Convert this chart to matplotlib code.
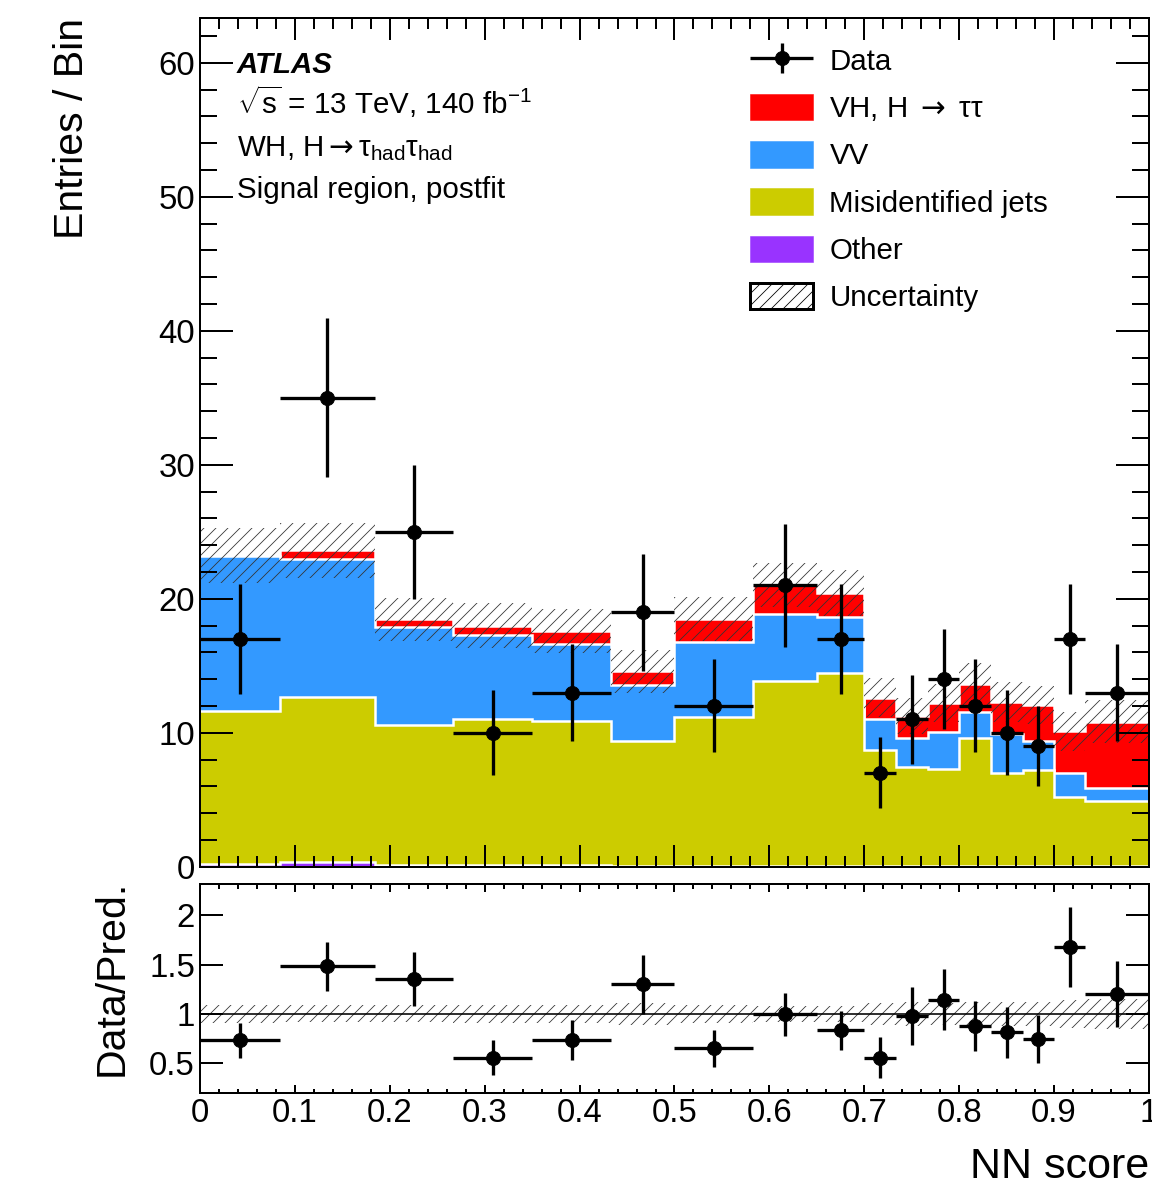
import numpy as np
import matplotlib
matplotlib.use("Agg")
import matplotlib.pyplot as plt
from matplotlib.patches import Patch
from matplotlib.ticker import MultipleLocator, NullLocator
from matplotlib.container import ErrorbarContainer
from matplotlib.legend_handler import HandlerErrorbar

plt.rcParams["font.family"] = ["Liberation Sans", "DejaVu Sans"]
plt.rcParams["mathtext.fontset"] = "custom"
plt.rcParams["mathtext.rm"] = "Liberation Sans"
plt.rcParams["mathtext.it"] = "Liberation Sans:italic"
plt.rcParams["mathtext.bf"] = "Liberation Sans:bold"
plt.rcParams["mathtext.sf"] = "DejaVu Sans"
plt.rcParams["hatch.linewidth"] = 0.8

# NN score binning (variable width)
bin_edges = [0.0, 0.084, 0.184, 0.267, 0.35, 0.433, 0.5, 0.583, 0.65, 0.70,
             0.733, 0.767, 0.80, 0.833, 0.867, 0.90, 0.933, 1.0]

data_counts = [17, 35, 25, 10, 13, 19, 12, 21, 17, 7, 11, 14, 12, 10, 9, 17, 13]

# postfit yields per process
other = [0.2, 0.35, 0.15, 0.15, 0.15, 0.03, 0.03, 0.03, 0.02, 0.02,
         0.02, 0.02, 0.02, 0.02, 0.02, 0.02, 0.02]
misid_jets = [11.4, 12.35, 10.4, 10.9, 10.75, 9.35, 11.15, 13.85, 14.4, 8.7,
              7.45, 7.25, 9.6, 6.95, 7.2, 5.2, 4.9]
vv = [11.6, 10.3, 7.35, 6.25, 5.7, 4.2, 5.6, 4.95, 4.2, 2.3,
      2.15, 2.8, 1.9, 2.9, 2.15, 1.75, 0.95]
vh_tautau = [0.0, 0.6, 0.55, 0.7, 1.0, 1.0, 1.7, 2.2, 1.8, 1.6,
             1.65, 2.15, 2.1, 2.4, 2.7, 3.15, 4.95]

# total prediction uncertainty (absolute)
pred_unc = [2.05, 2.05, 1.6, 1.7, 1.65, 1.6, 1.65, 1.65, 1.7, 1.45,
            1.35, 1.4, 1.6, 1.5, 1.45, 1.45, 1.6]

C_VH = "#ff0000"
C_VV = "#3399ff"
C_JETS = "#cccc00"
C_OTHER = "#9933ff"

edges = np.array(bin_edges)
centers = 0.5 * (edges[1:] + edges[:-1])
half_w = 0.5 * (edges[1:] - edges[:-1])
counts = np.array(data_counts, dtype=float)

layers = [np.array(other), np.array(misid_jets), np.array(vv), np.array(vh_tautau)]
cum = np.cumsum(layers, axis=0)
total = cum[-1]
unc = np.array(pred_unc)

fig = plt.figure(figsize=(1152 / 72, 1187 / 72), dpi=72)
ax = fig.add_axes([0.17361, 0.26984, 0.82378, 0.71525])
rax = fig.add_axes([0.17361, 0.07944, 0.82378, 0.17583])

# stacked histograms, drawn from the top layer down with white outlines
fill_colors = [C_OTHER, C_JETS, C_VV, C_VH]
for i in range(len(layers) - 1, -1, -1):
    ax.stairs(cum[i], edges, baseline=0, fill=True, color=fill_colors[i], lw=0)
    ax.stairs(cum[i], edges, baseline=None, color="white", lw=2.5)

ax.stairs(total + unc, edges, baseline=total - unc, fill=True, facecolor="none",
          edgecolor="#333333", hatch="//", lw=0)

eb = ax.errorbar(centers, counts, xerr=half_w, yerr=np.sqrt(counts), fmt="o",
                 color="black", markersize=14, elinewidth=3.3, capsize=0, zorder=5)

ax.set_xlim(0, 1)
ax.set_ylim(0, 63.36)
ax.xaxis.set_major_locator(MultipleLocator(0.1))
ax.xaxis.set_minor_locator(MultipleLocator(0.02))
ax.yaxis.set_major_locator(MultipleLocator(10))
ax.yaxis.set_minor_locator(MultipleLocator(2))
ax.tick_params(which="both", direction="in", top=True, right=True, width=2,
               labelsize=33)
ax.tick_params(axis="x", which="major", length=22)
ax.tick_params(axis="x", which="minor", length=11)
ax.tick_params(axis="y", which="major", length=33, pad=5)
ax.tick_params(axis="y", which="minor", length=17)
ax.tick_params(axis="x", labelbottom=False)
for s in ax.spines.values():
    s.set_linewidth(2)

ax.set_ylabel("Entries / Bin", fontsize=41, loc="top")
ax.yaxis.set_label_coords(-0.115, 1.0)

# ATLAS label block
tx = 0.039
ax.text(tx, 0.935, "ATLAS", transform=ax.transAxes, fontsize=29.5,
        fontweight="bold", fontstyle="italic", va="baseline")
ax.text(tx, 0.886, r"$\sqrt{\rm s}$ = 13 TeV, 140 fb$^{-1}$", transform=ax.transAxes,
        fontsize=29.5, va="baseline")
ax.text(tx, 0.837, r"WH, H$\mathsf{\rightarrow}$τ$_{\rm had}$τ$_{\rm had}$",
        transform=ax.transAxes, fontsize=29.5, va="baseline")
ax.text(tx, 0.788, "Signal region, postfit", transform=ax.transAxes,
        fontsize=29.5, va="baseline")

handles = [
    eb,
    Patch(facecolor=C_VH, edgecolor=C_VH, lw=0.5),
    Patch(facecolor=C_VV, edgecolor=C_VV, lw=0.5),
    Patch(facecolor=C_JETS, edgecolor=C_JETS, lw=0.5),
    Patch(facecolor=C_OTHER, edgecolor=C_OTHER, lw=0.5),
    Patch(facecolor="white", edgecolor="black", hatch="//", lw=3),
]
labels = ["Data", r"VH, H $\mathsf{\rightarrow}$ ττ", "VV", "Misidentified jets",
          "Other", "Uncertainty"]
ax.legend(handles, labels, loc="upper left", bbox_to_anchor=(0.5796, 0.966),
          frameon=False, fontsize=29.5, borderpad=0, borderaxespad=0,
          handlelength=2.14, handleheight=1.0, handletextpad=0.55,
          labelspacing=0.61,
          handler_map={ErrorbarContainer: HandlerErrorbar(xerr_size=1.07, yerr_size=0.5)})

# ratio panel
ratio = counts / total
ratio_err = np.sqrt(counts) / total
rel_unc = unc / total
rax.stairs(1 + rel_unc, edges, baseline=1 - rel_unc, fill=True, facecolor="none",
           edgecolor="#333333", hatch="//", lw=0)
rax.axhline(1.0, color="black", lw=1.6)
rax.errorbar(centers, ratio, xerr=half_w, yerr=ratio_err, fmt="o", color="black",
             markersize=14, elinewidth=3.3, capsize=0, zorder=5)

rax.set_xlim(0, 1)
rax.set_ylim(0.2, 2.32)
rax.xaxis.set_major_locator(MultipleLocator(0.1))
rax.xaxis.set_minor_locator(MultipleLocator(0.02))
rax.yaxis.set_major_locator(MultipleLocator(0.5))
rax.yaxis.set_minor_locator(NullLocator())
rax.tick_params(which="both", direction="in", top=True, right=True, width=2,
                labelsize=33)
rax.tick_params(axis="x", which="major", length=8, pad=5)
rax.tick_params(axis="x", which="minor", length=4.5)
rax.tick_params(axis="y", which="major", length=23, pad=5)
rax.set_xticks(np.arange(0, 1.01, 0.1))
rax.set_xticklabels(["0", "0.1", "0.2", "0.3", "0.4", "0.5", "0.6", "0.7",
                     "0.8", "0.9", "1"])
rax.set_yticks([0.5, 1.0, 1.5, 2.0])
rax.set_yticklabels(["0.5", "1", "1.5", "2"])
for s in rax.spines.values():
    s.set_linewidth(2)

rax.set_ylabel("Data/Pred.", fontsize=41, loc="top")
rax.yaxis.set_label_coords(-0.073, 1.02)
rax.set_xlabel("NN score", fontsize=43, loc="right")
rax.xaxis.set_label_coords(1.0, -0.262)

fig.savefig("out.png", dpi=72)
